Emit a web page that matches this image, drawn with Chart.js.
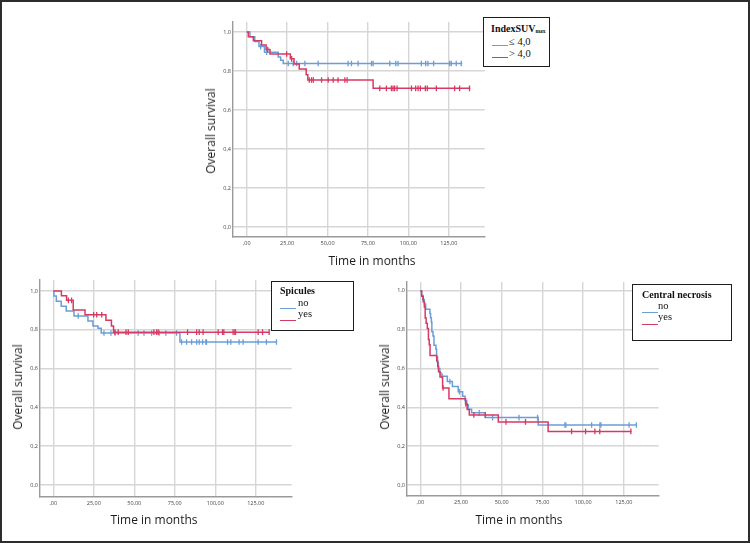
<!DOCTYPE html>
<html>
<head>
<meta charset="utf-8">
<script src="https://cdn.jsdelivr.net/npm/chart.js@4.4.1/dist/chart.umd.min.js"></script>
<style>
html,body{margin:0;padding:0;background:#fff;}
body{width:750px;height:544px;position:relative;overflow:hidden;}
canvas{position:absolute;}
.frame{position:absolute;left:0;top:0;width:750px;height:543px;border:2px solid #2d2d2d;box-sizing:border-box;}
.ax{position:absolute;font-family:'Open Sans',sans-serif;font-size:12px;line-height:14px;color:#1c1c1c;white-space:nowrap;transform:translate(-50%,-50%);}
.ax.v{transform:translate(-50%,-50%) rotate(-90deg);}
.lg{position:absolute;background:#fff;border:1.5px solid #1e1e1e;box-sizing:border-box;}
.lt{position:absolute;font-family:'Liberation Serif','Times New Roman',serif;white-space:nowrap;line-height:1;color:#111;}
.lt.b{font-weight:bold;font-size:10px;}
.lt.r{font-size:10.5px;}
.lt sub{font-size:5.5px;vertical-align:baseline;position:relative;top:1.5px;}
.sw{position:absolute;height:1.5px;width:16px;}
</style>
</head>
<body>
<canvas id="c1" width="290" height="240" style="left:200px;top:14px"></canvas>
<canvas id="c2" width="287" height="242" style="left:10px;top:272px"></canvas>
<canvas id="c3" width="287" height="239" style="left:377px;top:274px"></canvas>

<div class="ax v" style="left:211px;top:131px">Overall survival</div>
<div class="ax" style="left:372px;top:261px">Time in months</div>
<div class="ax v" style="left:18px;top:387px">Overall survival</div>
<div class="ax" style="left:154px;top:520px">Time in months</div>
<div class="ax v" style="left:385px;top:387px">Overall survival</div>
<div class="ax" style="left:519px;top:520px">Time in months</div>

<div class="lg" style="left:483px;top:17px;width:67px;height:50px"></div>
<div class="lt b" style="left:491px;top:23.5px">IndexSUV<sub>max</sub></div>
<div class="sw" id="sw1a" style="left:492px;top:44.5px"></div>
<div class="lt r" style="left:509px;top:37px">≤ 4,0</div>
<div class="sw" id="sw1b" style="left:492px;top:56.5px"></div>
<div class="lt r" style="left:509px;top:48.5px">&gt; 4,0</div>

<div class="lg" style="left:271px;top:281px;width:83px;height:50px"></div>
<div class="lt b" style="left:280px;top:286px">Spicules</div>
<div class="sw" id="sw2a" style="left:280px;top:307.5px"></div>
<div class="lt r" style="left:298px;top:297.5px">no</div>
<div class="sw" id="sw2b" style="left:280px;top:319.5px"></div>
<div class="lt r" style="left:298px;top:308.5px">yes</div>

<div class="lg" style="left:632px;top:284px;width:100px;height:57px"></div>
<div class="lt b" style="left:642px;top:289.5px">Central necrosis</div>
<div class="sw" id="sw3a" style="left:642px;top:311.5px"></div>
<div class="lt r" style="left:658px;top:300.5px">no</div>
<div class="sw" id="sw3b" style="left:642px;top:323.5px"></div>
<div class="lt r" style="left:658px;top:311.5px">yes</div>

<div class="frame"></div>

<script>
// ---------- tick values / labels ----------
const xTickValues = [0, 25, 50, 75, 100, 125];
const xTickLabels = [',00', '25,00', '50,00', '75,00', '100,00', '125,00'];
const yTickValues = [0, 0.2, 0.4, 0.6, 0.8, 1.0];
const yTickLabels = ['0,0', '0,2', '0,4', '0,6', '0,8', '1,0'];

// ---------- Chart 1: IndexSUVmax ----------
const suvLowTimes = [0, 2, 5, 7.6, 11, 19.5, 21, 22.6, 133.3];
const suvLowSurv  = [1, 0.976, 0.951, 0.925, 0.896, 0.872, 0.855, 0.838, 0.838];
const suvLowCensored = [8.6, 12.3, 25.7, 28.8, 30.9, 36, 44.2, 62.7, 64.8, 68.9, 77.2, 78.2, 88.5, 92.2, 93.6, 108, 110.7, 112.1, 115.6, 125.5, 126.5, 129.6, 132.7];

const suvHighTimes = [0, 1, 4.1, 9.2, 12, 14.4, 27, 29.3, 32.5, 36.8, 37.8, 78.2, 138.3];
const suvHighSurv  = [1, 0.976, 0.955, 0.933, 0.91, 0.887, 0.862, 0.836, 0.81, 0.78, 0.754, 0.711, 0.711];
const suvHighCensored = [13, 24.7, 27.8, 38.7, 40.1, 41.2, 46.3, 50.4, 53.5, 56.5, 60.7, 62.1, 82.3, 86.4, 89.5, 90.5, 91.5, 93, 101.9, 104.5, 106, 107.4, 110.5, 111.7, 117.3, 128.6, 131.7, 137.8];

// ---------- Chart 2: Spicules ----------
const spicNoTimes = [0, 0.4, 1.9, 4.9, 8, 12.8, 21.4, 24.5, 27.6, 29.6, 78.2, 137.8];
const spicNoSurv  = [1, 0.974, 0.948, 0.922, 0.897, 0.871, 0.846, 0.82, 0.808, 0.784, 0.737, 0.737];
const spicNoCensored = [15.4, 31.3, 35.6, 38.1, 52.4, 56, 60.7, 65.4, 69.5, 76.1, 79.2, 82.3, 85.4, 88.5, 90.1, 92.2, 94.2, 94.6, 107.6, 109.6, 114.7, 117.2, 126.5, 131.6, 137.8];

const spicYesTimes = [0, 5, 8.2, 12.3, 19.6, 32.5, 35.9, 37.2, 133.3];
const spicYesSurv  = [1, 0.976, 0.952, 0.902, 0.878, 0.849, 0.82, 0.788, 0.788];
const spicYesCensored = [9.3, 11.3, 24.9, 26.8, 29.9, 38.1, 40.1, 44.9, 46.3, 62.1, 63.8, 64.8, 82.9, 88.5, 90.1, 92.5, 101.8, 104.5, 105.3, 111, 112.1, 112.5, 126.5, 129.2, 133.3];

// ---------- Chart 3: Central necrosis ----------
const necNoTimes = [0, 0.8, 1.5, 2.5, 3.3, 5.9, 6.3, 6.8, 7.1, 7.8, 8.4, 9.6, 10.0, 10.6, 11.1, 12.0, 12.7, 16.6, 19.7, 23.3, 26, 27.5, 28.5, 29.5, 31.5, 39.9, 72.4, 132.7];
const necNoSurv  = [1, 0.978, 0.956, 0.933, 0.906, 0.884, 0.862, 0.84, 0.79, 0.768, 0.72, 0.70, 0.66, 0.63, 0.60, 0.578, 0.56, 0.533, 0.507, 0.48, 0.457, 0.435, 0.413, 0.39, 0.372, 0.347, 0.309, 0.309];
const necNoCensored = [13.5, 18.2, 24, 36.2, 44.4, 60.6, 72, 88.8, 89.4, 105.2, 110.3, 110.9, 128.2, 132.7];

const necYesTimes = [0, 0.8, 1.8, 2.5, 3.0, 3.6, 4.3, 5.0, 5.5, 6.0, 10.1, 10.7, 11.2, 12.1, 13.7, 17.6, 27.8, 28.8, 30.1, 47.9, 78.5, 129.7];
const necYesSurv  = [1, 0.972, 0.944, 0.917, 0.861, 0.833, 0.806, 0.75, 0.722, 0.667, 0.639, 0.611, 0.583, 0.556, 0.5, 0.444, 0.417, 0.389, 0.361, 0.325, 0.276, 0.276];
const necYesCensored = [14, 28, 32.9, 39.9, 52.6, 64.6, 92.9, 101.5, 107.2, 110.2, 129.3];

// ---------- styling ----------
const BLUE = '#6b9dd7';
const RED = '#d63a62';
['sw1a','sw2a','sw3a'].forEach(id => document.getElementById(id).style.background = BLUE);
['sw1b','sw2b','sw3b'].forEach(id => document.getElementById(id).style.background = RED);

function survAt(times, surv, t) {
  let s = surv[0];
  for (let i = 0; i < times.length; i++) { if (times[i] <= t + 1e-9) s = surv[i]; }
  return s;
}

function curve(times, surv, censored, color, order) {
  return [
    { data: times.map((t, i) => ({ x: t, y: surv[i] })), borderColor: color, borderWidth: 1.5,
      stepped: 'before', pointRadius: 0, fill: false, order: order },
    { data: censored.map(t => ({ x: t, y: survAt(times, surv, t) })), showLine: false,
      pointStyle: 'line', rotation: 90, pointRadius: 2.8, pointBorderWidth: 1.3,
      pointBorderColor: color, borderColor: color, backgroundColor: color, order: order }
  ];
}

function makeChart(id, datasets, g) {
  new Chart(document.getElementById(id), {
    type: 'line',
    data: { datasets: datasets },
    options: {
      responsive: false, animation: false, events: [],
      layout: { padding: { top: g.padTop, right: g.padRight, left: 0, bottom: 0 } },
      plugins: { legend: { display: false }, tooltip: { enabled: false } },
      scales: {
        x: {
          type: 'linear', min: g.xMin, max: g.xMax,
          afterBuildTicks: s => { s.ticks = xTickValues.map(v => ({ value: v })); },
          afterFit: s => { s.height = g.xh; },
          ticks: { autoSkip: false, maxRotation: 0, padding: 3, color: '#444',
                   font: { family: 'Open Sans', size: 5.5 },
                   callback: (v, i) => xTickLabels[i] },
          grid: { color: '#d6d6d6', lineWidth: 1.4, drawTicks: false },
          border: { color: '#9a9a9a', width: 1.4 }
        },
        y: {
          type: 'linear', min: g.yMin, max: g.yMax,
          afterBuildTicks: s => { s.ticks = yTickValues.map(v => ({ value: v })); },
          afterFit: s => { s.width = g.yw; },
          ticks: { autoSkip: false, padding: 2, color: '#444',
                   font: { family: 'Open Sans', size: 5.5 },
                   callback: (v, i) => yTickLabels[i] },
          grid: { color: '#d6d6d6', lineWidth: 1.4, drawTicks: false },
          border: { color: '#9a9a9a', width: 1.4 }
        }
      }
    }
  });
}

makeChart('c1',
  [...curve(suvHighTimes, suvHighSurv, suvHighCensored, RED, 0),
   ...curve(suvLowTimes, suvLowSurv, suvLowCensored, BLUE, 1)],
  { padTop: 8, padRight: 5, yw: 33, xh: 17, xMin: -8.47, xMax: 147.2, yMin: -0.051, yMax: 1.051 });

makeChart('c2',
  [...curve(spicYesTimes, spicYesSurv, spicYesCensored, RED, 0),
   ...curve(spicNoTimes, spicNoSurv, spicNoCensored, BLUE, 1)],
  { padTop: 8, padRight: 5, yw: 30, xh: 17, xMin: -8.2, xMax: 147.2, yMin: -0.062, yMax: 1.057 });

makeChart('c3',
  [...curve(necYesTimes, necYesSurv, necYesCensored, RED, 0),
   ...curve(necNoTimes, necNoSurv, necNoCensored, BLUE, 1)],
  { padTop: 8, padRight: 5, yw: 30, xh: 17, xMin: -8.16, xMax: 146.4, yMin: -0.057, yMax: 1.046 });
</script>
</body>
</html>
